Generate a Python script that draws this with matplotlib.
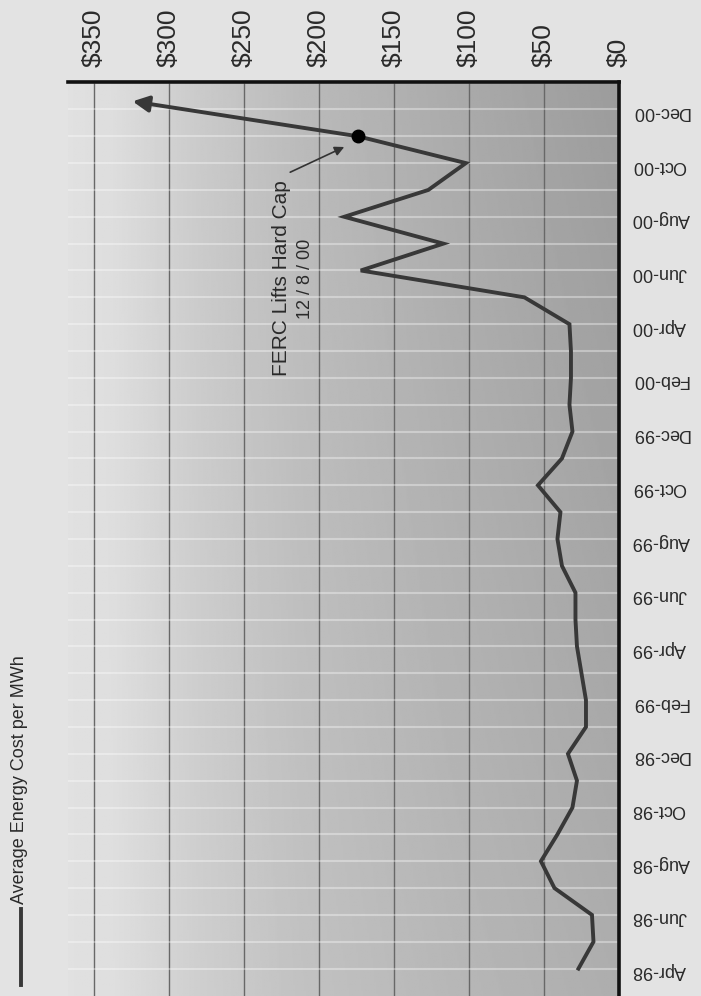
import numpy as np
import matplotlib.pyplot as plt
from matplotlib.lines import Line2D

plt.rcParams['font.family'] = ['Liberation Sans', 'DejaVu Sans']

# monthly average cost, Apr-98 .. Nov-00
cost = [27, 17, 18, 43, 52, 41, 31, 28, 34, 22, 22, 25, 28, 29, 29, 38,
        41, 39, 54, 38, 31, 33, 32, 32, 33, 63, 172, 117, 183, 127, 102, 174]
month_idx = np.arange(len(cost))

# line runs on past the last point to an arrow head
arrow_end_cost = 324
arrow_end_month = 32.3

month_labels = ['Apr-98', 'Jun-98', 'Aug-98', 'Oct-98', 'Dec-98', 'Feb-99',
                'Apr-99', 'Jun-99', 'Aug-99', 'Oct-99', 'Dec-99', 'Feb-00',
                'Apr-00', 'Jun-00', 'Aug-00', 'Oct-00', 'Dec-00']
cost_ticks = [0, 50, 100, 150, 200, 250, 300, 350]

cap_month = 31  # Nov-00 point, FERC lifts hard cap

fig = plt.figure(figsize=(7.01, 9.96), dpi=100)
fig.patch.set_facecolor('#e3e3e3')
ax = fig.add_axes([68 / 701, 0, 551 / 701, 914 / 996])

# shaded background: light at the left, steeper fall then flatter, darker at top right
u, v = np.meshgrid(np.linspace(0, 1, 300), np.linspace(0, 1, 300))
shade = np.interp(u, [0, 0.08, 0.24, 0.42, 0.69, 1.0],
                  [0.88, 0.87, 0.80, 0.745, 0.695, 0.645])
shade = shade - 0.07 * (v - 0.5) * u
ax.imshow(shade, cmap='gray', vmin=0, vmax=1, origin='lower', aspect='auto',
          extent=(0, 1, 0, 1), transform=ax.transAxes, zorder=0)

ax.set_xlim(367, 0)
ax.set_ylim(-1.02, 33.02)

ax.plot(cost, month_idx, color='#383838', lw=2.8, solid_joinstyle='miter', zorder=3)
ax.annotate('', xy=(arrow_end_cost, arrow_end_month),
            xytext=(cost[-1], month_idx[-1]),
            arrowprops=dict(arrowstyle='-|>', color='#383838', lw=2.8,
                            mutation_scale=24, shrinkA=0, shrinkB=0),
            zorder=3)
ax.plot(cost[cap_month], month_idx[cap_month], 'o', color='black', ms=9, zorder=4)

# annotation
ax.annotate('', xy=(183, 30.6), xytext=(219, 29.66),
            arrowprops=dict(arrowstyle='-|>', color='#333333', lw=1.2,
                            mutation_scale=14, shrinkA=0, shrinkB=0))
ax.text(225, 25.7, 'FERC Lifts Hard Cap', rotation=90, fontsize=15,
        ha='center', va='center', color='#2a2a2a')
ax.text(209, 25.7, '12 / 8 / 00', rotation=90, fontsize=13,
        ha='center', va='center', color='#2a2a2a')

# axes styling
ax.xaxis.tick_top()
ax.set_xticks(cost_ticks)
ax.set_xticklabels(['$%d' % c for c in cost_ticks])
ax.tick_params(axis='x', length=0, pad=11, labelsize=19, labelrotation=90,
               labelcolor='#2a2a2a')

ax.yaxis.tick_right()
ax.set_yticks(np.arange(0, 33, 2))
ax.set_yticks(np.arange(0, 34), minor=True)
ax.set_yticklabels(month_labels)
ax.tick_params(axis='y', which='both', length=0, pad=9, labelsize=13,
               labelrotation=180, labelcolor='#2a2a2a')

ax.set_axisbelow(True)
ax.grid(axis='x', color='#686868', lw=1.0)
ax.grid(axis='y', which='both', color='white', lw=1.5, alpha=0.35)

for side in ['left', 'bottom']:
    ax.spines[side].set_visible(False)
for side in ['top', 'right']:
    ax.spines[side].set_linewidth(2.6)
    ax.spines[side].set_color('#111111')

# legend at the left edge
fig.add_artist(Line2D([0.030, 0.030], [0.011, 0.087], color='#383838', lw=2.8))
fig.text(0.028, 0.092, 'Average Energy Cost per MWh', rotation=90, fontsize=13,
         ha='center', va='bottom', color='#2a2a2a')

fig.savefig('out.png', dpi=100, facecolor=fig.get_facecolor())
